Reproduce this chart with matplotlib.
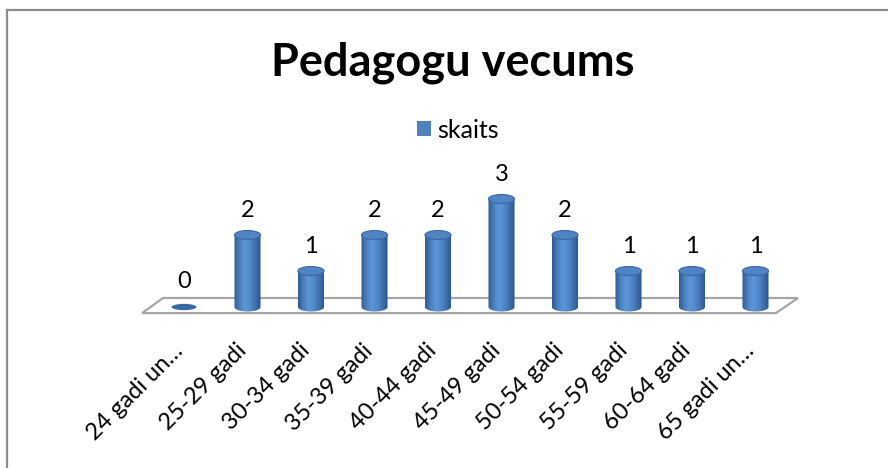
import numpy as np
import matplotlib
matplotlib.use("Agg")
import matplotlib.pyplot as plt
from matplotlib.patches import Ellipse, Polygon, Patch
from matplotlib.colors import LinearSegmentedColormap
from matplotlib.lines import Line2D

categories = ["24 gadi un\u2026", "25-29 gadi", "30-34 gadi", "35-39 gadi", "40-44 gadi",
              "45-49 gadi", "50-54 gadi", "55-59 gadi", "60-64 gadi", "65 gadi un\u2026"]
skaits = [0, 2, 1, 2, 2, 3, 2, 1, 1, 1]

plt.rcParams['font.family'] = ['Lato', 'DejaVu Sans']

W, H = 888, 468
fig = plt.figure(figsize=(W / 100, H / 100), dpi=100)

# axes: one category = 63.5 px, one unit = 36 px
x0, x1 = -0.7, 9.7
y0, y1 = -0.3, 3.5
left_px, base_px = 184 - 63.5 * 0.7, 307 + 0.3 * 36
ax = fig.add_axes([left_px / W, (H - base_px) / H, (x1 - x0) * 63.5 / W, (y1 - y0) * 36 / H])
ax.set_xlim(x0, x1)
ax.set_ylim(y0, y1)
ax.axis('off')

# floor of the 3d plot
floor = Polygon([(-0.66, -0.17), (9.32, -0.17), (9.67, 0.25), (-0.33, 0.25)],
                closed=True, facecolor='white', edgecolor='#a6a6a6', lw=1.6, zorder=1)
ax.add_patch(floor)

cmap = LinearSegmentedColormap.from_list('cyl', ['#2f5b91', '#4a7fc0', '#5f95d5', '#5189ca', '#3f70ac', '#2c5488'])
grad = np.linspace(0, 1, 64).reshape(1, -1)
bw = 0.41   # bar width in categories
eh = 0.25   # ellipse height in value units
t = np.linspace(0, np.pi, 40)

for i, v in enumerate(skaits):
    if v == 0:
        ax.add_patch(Ellipse((i, 0), bw * 0.95, eh * 0.7, facecolor='#3a68a1', edgecolor='none', zorder=3))
    else:
        xs = np.concatenate([[i - bw / 2, i + bw / 2], i + bw / 2 * np.cos(t)])
        ys = np.concatenate([[v, v], -eh / 2 * np.sin(t)])
        clip = Polygon(np.column_stack([xs, ys]), closed=True, transform=ax.transData, facecolor='none', edgecolor='none')
        ax.add_patch(clip)
        im = ax.imshow(grad, cmap=cmap, extent=[i - bw / 2, i + bw / 2, -eh / 2, v],
                       aspect='auto', zorder=3, interpolation='bilinear')
        im.set_clip_path(clip)
        ax.add_patch(Ellipse((i, v), bw, eh, facecolor='#4f83c4', edgecolor='#3a69a3', lw=0.8, zorder=4))
    ax.annotate(str(v), (i, v), xytext=(0, 25), textcoords='offset pixels',
                ha='center', va='center', fontsize=17, color='black')
    ax.annotate(categories[i], (i, y0), xytext=(-12, -22), textcoords='offset pixels',
                ha='right', va='top', rotation=45, rotation_mode='anchor', fontsize=17)

ax.set_xlim(x0, x1)
ax.set_ylim(y0, y1)

fig.text(453 / W, 1 - 63 / H, 'Pedagogu vecums', ha='center', va='center',
         fontsize=32.5, fontweight='bold')
fig.legend(handles=[Patch(facecolor='#4f81bd', label='skaits')], loc='center',
           bbox_to_anchor=(458 / W, 1 - 130 / H), frameon=False, fontsize=18,
           handlelength=0.55, handleheight=0.55, handletextpad=0.25)

# chart border
fig.add_artist(Line2D([7 / W, 7 / W], [0, 1 - 9.5 / H], color='#8c8c8c', lw=1.6))
fig.add_artist(Line2D([7 / W, 1], [1 - 9.5 / H, 1 - 9.5 / H], color='#8c8c8c', lw=1.6))

fig.savefig('out.png', dpi=100)
